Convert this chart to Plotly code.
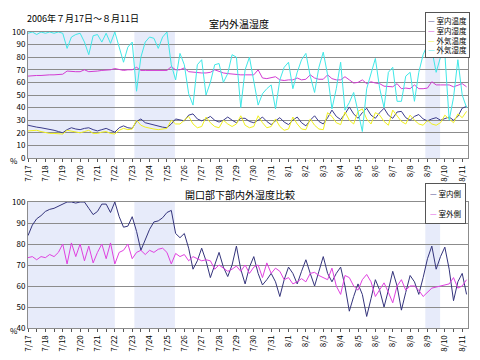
import pandas as pd
import plotly.graph_objects as go

# ---------------- data (6-hourly readings from 2006-07-17 00:00) ----------------
start = "2006-07-17"
step = "6h"

indoor_temp = [
    26, 25, 24.5, 24,  23.5, 22.5, 22, 21,  20, 22.5, 24, 23,  22.5, 23.5, 24, 22.5,
    21.5, 22.5, 23.5, 22,  20.5, 24, 25.5, 24,  23.5, 29, 31, 28,  27, 26, 25, 24.5,
    24, 27, 31, 30,  29.5, 34, 35, 31,  29.5, 31, 33, 30,  28.5, 30, 32.5, 30,
    28, 31.5, 31.5, 29,  28, 30, 32.5, 29,  26.5, 29.5, 32, 28.5,  26.5, 30, 32.5, 28,
    25.5, 30, 33.5, 29,  27, 32, 38, 33,  30.5, 35, 40.5, 35,  31.5, 36, 39.5, 34,
    31.5, 36, 39.5, 34,  31.5, 36.5, 37, 32,  30, 33, 34.5, 31,  29.5, 31, 32, 30,
    31, 32.5, 30, 33,  39.5, 41]

indoor_hum = [
    65, 65.5, 65.5, 65.5,  66, 66, 66, 66,  66.5, 69, 68.5, 68.5,  68.5, 70, 68.5, 68.5,
    69, 69.5, 69.5, 70,  71, 70, 69.5, 70,  70, 72, 69.5, 69.5,  69.5, 69.5, 69.5, 69.5,
    69.5, 72.5, 70, 70,  71.5, 68.5, 68, 68,  67.5, 67.5, 68, 70,  68.5, 67.5, 67, 66.5,
    66, 66, 66, 66,  66, 70, 63.5, 63,  63.5, 64.5, 62, 61.5,  62, 62, 63.5, 62,
    62.5, 66, 63.5, 62.5,  62.5, 66, 63, 62,  62, 64.5, 62, 59.5,  60, 62, 59, 60.5,
    59.5, 59, 57, 56.5,  56.5, 59, 55, 55.5,  55, 58, 55, 55,  55.5, 60.5, 58, 58,
    58, 58, 56.5, 58,  59, 56.5]

outdoor_temp = [
    21.5, 22, 22, 21,  20, 19.5, 19.5, 19,  19, 22, 21.5, 20.5,  20, 21, 22, 19.5,
    19.5, 20.5, 21, 19.5,  19, 22, 23.5, 22.5,  23, 30, 26, 24.5,  23.5, 23, 22.5, 23,
    23.5, 30, 27, 27,  30, 33, 27, 24,  25, 32.5, 28, 25,  24, 30, 27, 25,
    27, 33.5, 26, 24,  25, 33.5, 28, 24,  25, 31, 25, 22,  23, 32.5, 27, 23,
    22.5, 31, 26, 23,  22.5, 36, 33, 28,  26.5, 36.5, 30, 27,  37, 39, 31, 27,
    36, 34, 29, 26,  38, 33, 29, 27,  34, 30, 27, 26,  30, 27, 26, 28,
    34, 31, 28, 35,  32, 37]

outdoor_hum = [
    99, 100, 98, 100,  99, 100, 99, 100,  99, 87, 96, 98,  99, 92, 82, 97,
    98, 92, 99, 91,  100, 87, 76, 88,  92, 53, 80, 92,  96, 95, 87, 96,
    100, 74, 62, 83,  74, 51, 42, 74,  78, 50, 60, 74,  75, 60, 67, 82,
    80, 40, 70, 80,  62, 42, 51, 55,  58, 39, 62, 72,  76, 55, 68, 78,
    83, 65, 52, 72,  84, 66, 39, 55,  76, 38, 44, 52,  37, 21, 55, 68,
    79, 55, 40, 68,  72, 45, 45, 65,  68, 45, 68, 82,  90, 86, 68, 80,
    83, 30, 48, 78,  50, 40]

opening_in = [
    84, 89, 92, 93.5,  95.5, 96.5, 97, 98,  99, 100, 100, 99.5,  100, 100, 97, 94,
    95.5, 99, 99, 95,  100, 93, 88, 88.5,  93, 86, 77, 82,  87, 90.5, 91, 92.5,
    95, 96, 85, 83,  85, 78, 68, 72,  78, 72, 64, 70,  76, 69, 64.5, 70,
    79, 68, 61, 69,  74, 66, 60.5, 63,  66, 62, 55, 63,  69, 66, 61, 67,
    72.5, 66, 60, 67,  74, 66, 62, 66,  69, 60, 48, 55,  61, 56, 45.5, 54,
    63, 58, 50, 58,  67, 60, 48.5, 57,  65, 62, 56, 64,  73, 79, 68, 74,
    78.5, 68, 53, 62,  66, 56]

opening_out = [
    73.5, 74, 72.5, 74,  73.5, 75, 74, 76,  80, 70.5, 80.5, 74,  80, 72, 79, 71,
    76, 80, 73, 80.5,  70.5, 76, 77, 80,  73, 76, 77, 75,  77, 76, 77.5, 78,
    76, 70.5, 75.5, 74,  75, 72, 74, 73,  72, 72.5, 72, 68,  70, 68.5, 67, 68,
    69.5, 67, 70, 66,  69, 70, 64, 71,  66, 68.5, 67, 63,  64, 61, 62, 63.5,
    62, 66, 66.5, 65,  64, 63, 68.5, 60,  56, 65, 64, 60,  58, 63, 65.5, 62,
    55, 58, 61.5, 57,  52, 60, 63, 58,  60, 60, 58, 55,  57, 59, 59.5, 60,
    60.5, 61, 64, 59,  60, 63]

top_names = ["室内温度", "室内湿度", "外気温度", "外気湿度"]
bottom_names = ["室内側", "室外側"]
shade_periods = [("2006-07-17 00:00", "2006-07-22 00:00"),
                 ("2006-07-23 03:00", "2006-07-25 11:00"),
                 ("2006-08-08 21:00", "2006-08-09 17:30")]
x_range = ["2006-07-17 00:00", "2006-08-11 08:00"]

times = pd.date_range(start, periods=len(indoor_temp), freq=step)

# ---------------- layout helpers ----------------
W, H = 464, 344   # page body has an 8px margin inside the 480x360 window
OFF = 8


def fx(px):
    return (px - OFF) / W


def fy(py):
    return 1 - (py - OFF) / H


FONT = "Noto Sans CJK JP"
GRID = "#8c8c8c"
SHADE = "#e7ebfa"

fig = go.Figure()

top_series = [indoor_temp, indoor_hum, outdoor_temp, outdoor_hum]
top_colors = ["#3c3c8c", "#d23cd2", "#f0f020", "#40e8e8"]
for name, vals, col in zip(top_names, top_series, top_colors):
    fig.add_trace(go.Scatter(x=times, y=vals, name=name, mode="lines",
                             line=dict(color=col, width=1),
                             xaxis="x", yaxis="y", showlegend=False))

bottom_series = [opening_in, opening_out]
bottom_colors = ["#34347c", "#e040e0"]
for name, vals, col in zip(bottom_names, bottom_series, bottom_colors):
    fig.add_trace(go.Scatter(x=times, y=vals, name=name, mode="lines",
                             line=dict(color=col, width=1),
                             xaxis="x2", yaxis="y2", showlegend=False))

shapes = []
for x0, x1 in shade_periods:
    for xr, yr in [("x", "y domain"), ("x2", "y2 domain")]:
        shapes.append(dict(type="rect", xref=xr, yref=yr, x0=x0, x1=x1, y0=0, y1=1,
                           fillcolor=SHADE, line=dict(width=0), layer="below"))

xdom = [fx(28), fx(468)]
common_x = dict(type="date", range=x_range, dtick=86400000, tick0="2006-07-17",
                tickformat="%-m/%-d", tickangle=-90, ticks="outside", ticklen=3,
                tickcolor="#555", showgrid=False, showline=True, linecolor=GRID,
                mirror=True, zeroline=False, automargin=False,
                minor=dict(dtick=43200000, ticks="outside", ticklen=3, tickcolor="#555"),
                tickfont=dict(size=8, family=FONT, color="#000"), domain=xdom)
common_y = dict(dtick=10, showgrid=True, gridcolor=GRID, gridwidth=1, showline=True,
                linecolor=GRID, mirror=True, zeroline=False, ticks="", automargin=False,
                tickfont=dict(size=8, family=FONT, color="#000"))


def legend_text(names, colors, sep):
    rows = [f"<span style='color:{c}'>—</span> {n}" for n, c in zip(names, colors)]
    return sep.join(rows)


fig.update_layout(
    width=W, height=H,
    margin=dict(l=0, r=0, t=0, b=0, autoexpand=False),
    paper_bgcolor="white", plot_bgcolor="white",
    font=dict(family=FONT, size=8, color="#000"),
    showlegend=False,
    xaxis=dict(anchor="y", **common_x),
    xaxis2=dict(anchor="y2", **common_x),
    yaxis=dict(domain=[fy(158), fy(32)], range=[0, 100], anchor="x", **common_y),
    yaxis2=dict(domain=[fy(328), fy(202)], range=[40, 100], anchor="x2", **common_y),
    shapes=shapes,
    annotations=[
        dict(text="2006年７月17日～８月11日", x=fx(25), y=fy(18.5),
             xref="paper", yref="paper", xanchor="left", yanchor="middle",
             showarrow=False, font=dict(size=9, family=FONT)),
        dict(text="室内外温湿度", x=fx(239), y=fy(23.5),
             xref="paper", yref="paper", xanchor="center", yanchor="middle",
             showarrow=False, font=dict(size=10, family=FONT)),
        dict(text="開口部下部内外湿度比較", x=fx(240), y=fy(194),
             xref="paper", yref="paper", xanchor="center", yanchor="middle",
             showarrow=False, font=dict(size=10, family=FONT)),
        dict(text="%", x=0, y=fy(160), xref="paper", yref="paper",
             xanchor="left", yanchor="middle", showarrow=False,
             font=dict(size=8, family=FONT)),
        dict(text="%", x=0, y=fy(330), xref="paper", yref="paper",
             xanchor="left", yanchor="middle", showarrow=False,
             font=dict(size=8, family=FONT)),
        dict(text=legend_text(top_names, top_colors, "<br>"),
             x=fx(425), y=fy(12), xref="paper", yref="paper",
             xanchor="left", yanchor="top", align="left", showarrow=False,
             bgcolor="white", bordercolor="#555", borderwidth=1, borderpad=2,
             font=dict(size=7.5, family=FONT)),
        dict(text=legend_text(bottom_names, bottom_colors, "<br><br>"),
             x=fx(425), y=fy(183), xref="paper", yref="paper",
             xanchor="left", yanchor="top", align="left", showarrow=False,
             bgcolor="white", bordercolor="#555", borderwidth=1, borderpad=4,
             font=dict(size=7.5, family=FONT)),
    ],
)

fig.write_html("out.html")
